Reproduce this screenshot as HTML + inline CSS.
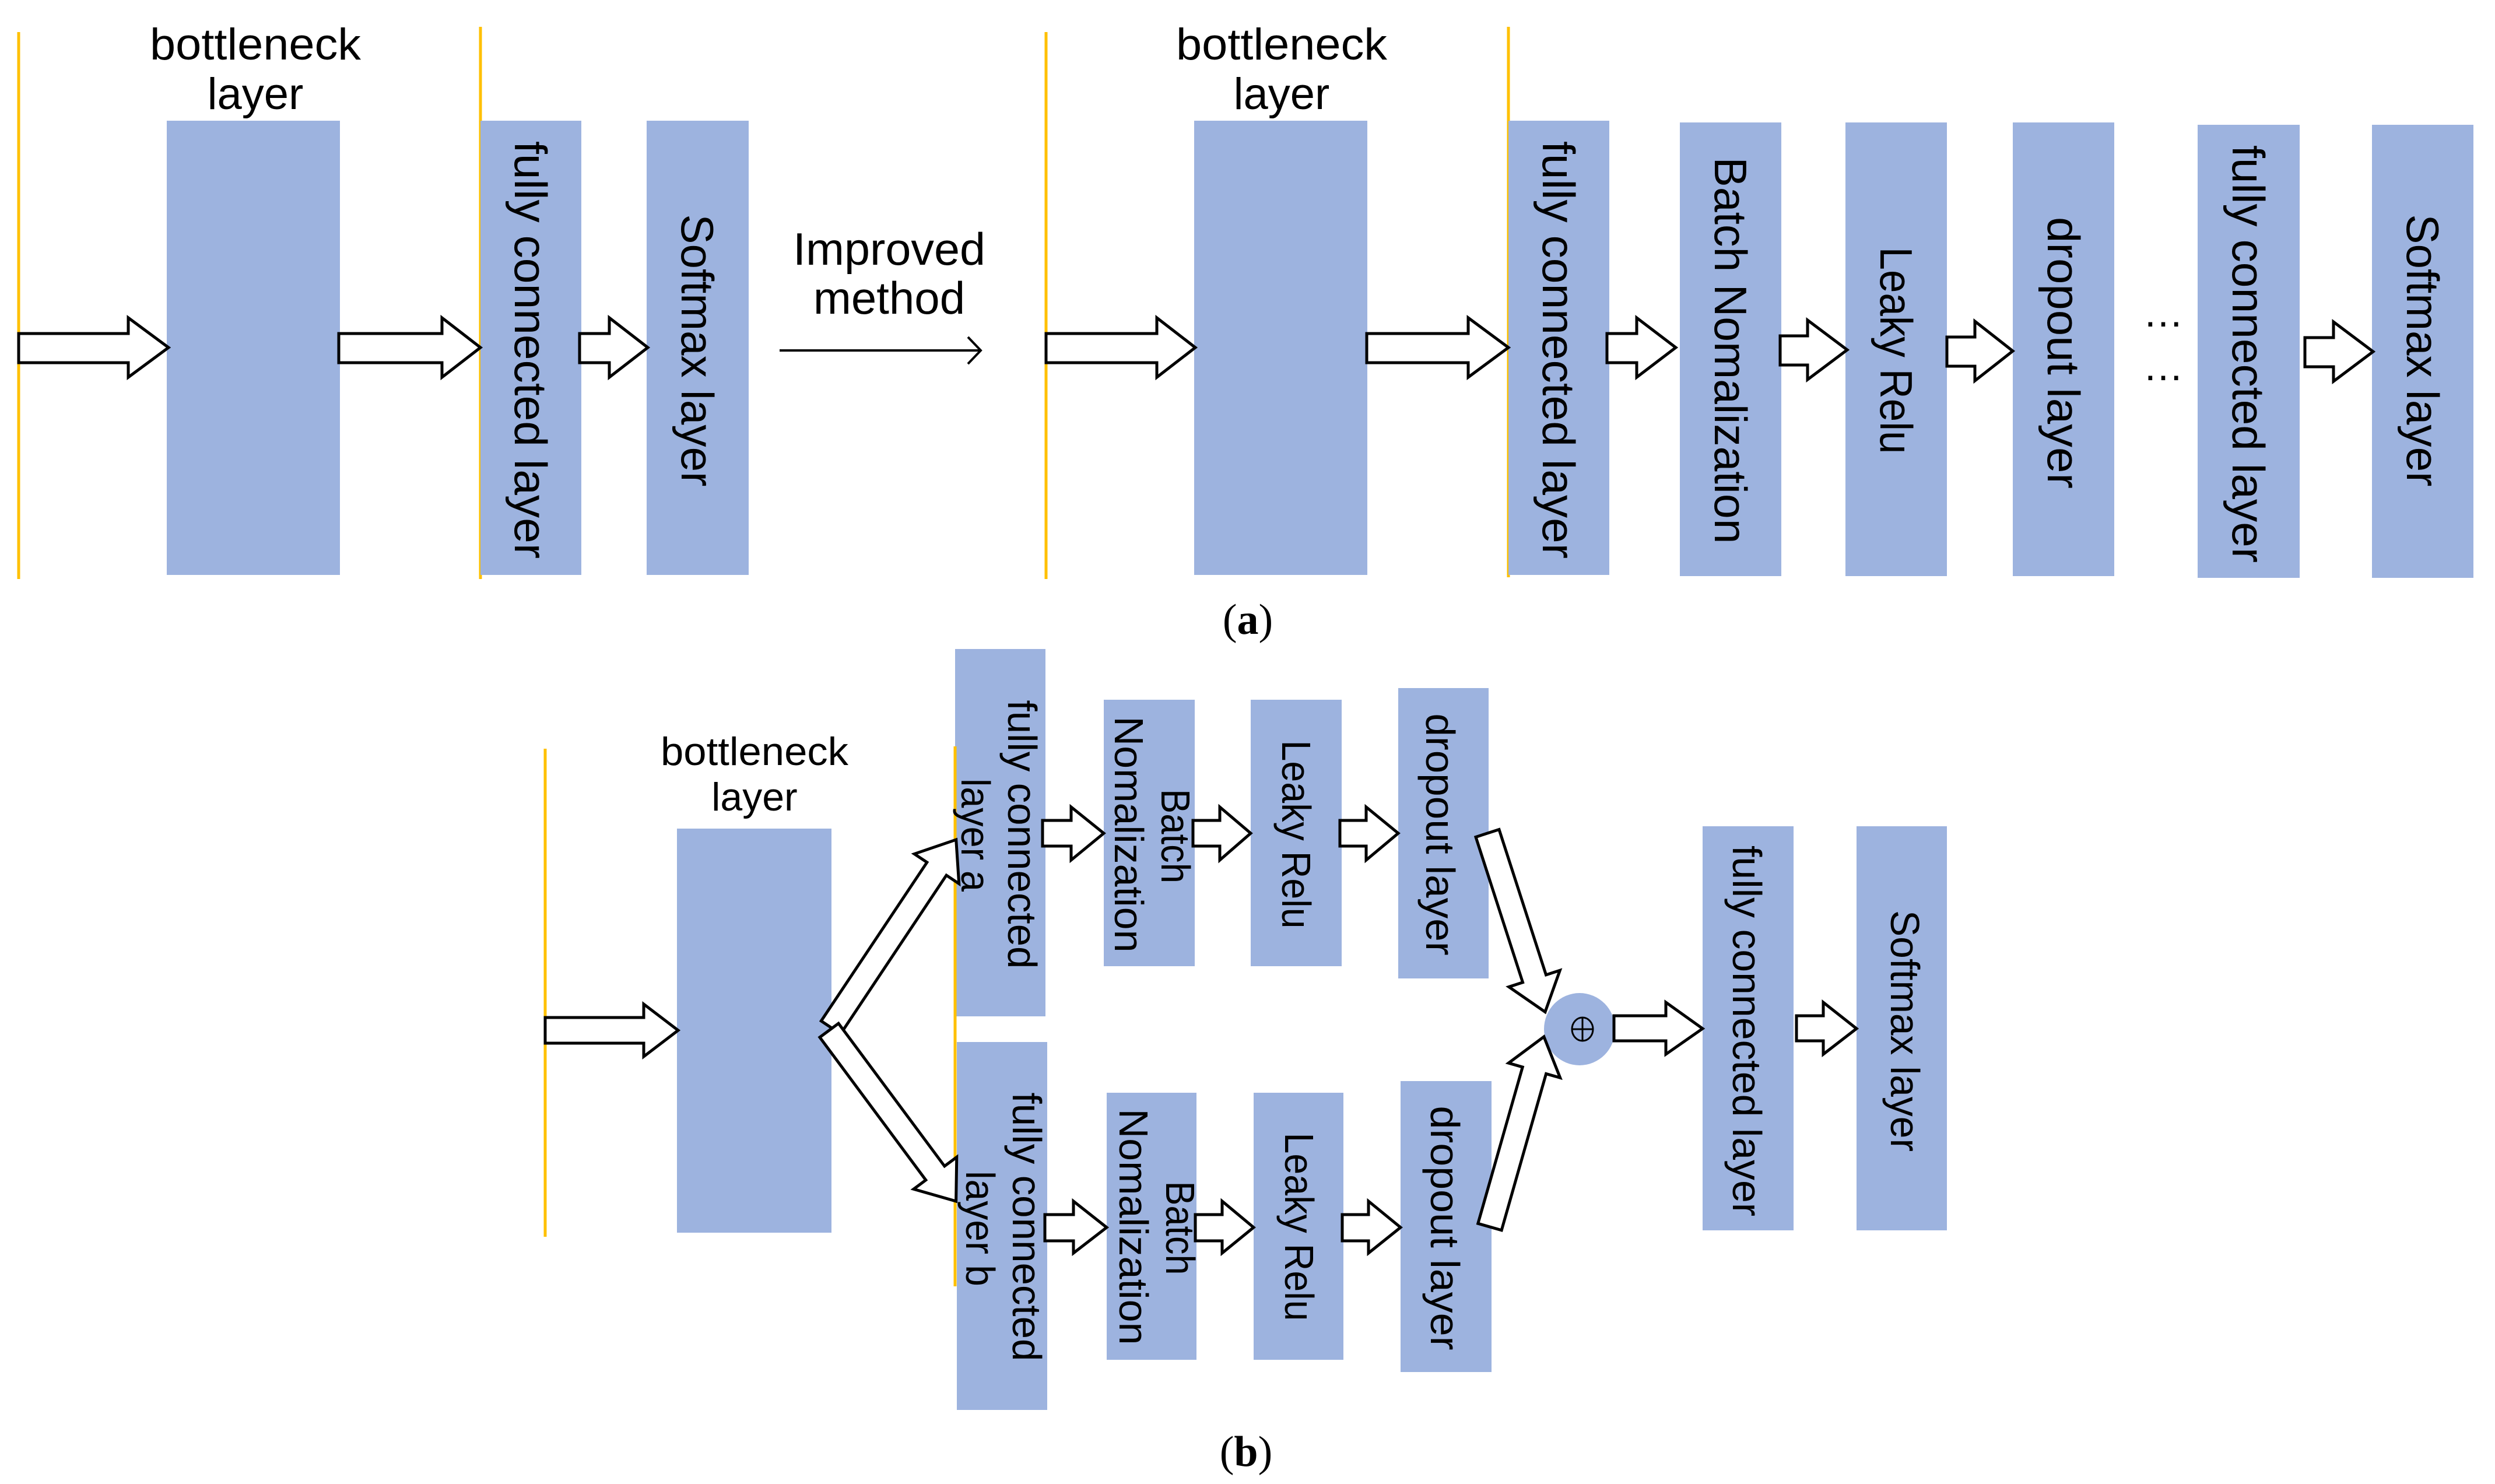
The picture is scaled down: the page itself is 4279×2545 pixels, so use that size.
<!DOCTYPE html>
<html><head><meta charset="utf-8"><style>
html,body{margin:0;padding:0;background:#fff;}
svg{display:block;}
text{font-family:"Liberation Sans",sans-serif;fill:#000;}
</style></head><body>
<svg width="4279" height="2545" viewBox="0 0 4279 2545" xmlns="http://www.w3.org/2000/svg">
<defs>
<style>
.r{fill:#9DB3DF;}
.y{stroke:#FFC000;stroke-width:5;}
.a{fill:#fff;stroke:#000;stroke-width:5;stroke-linejoin:miter;}
</style>
</defs>
<!-- ===== (a) left ===== -->
<line class="y" x1="32" y1="55" x2="32" y2="993"/>
<line class="y" x1="824" y1="46" x2="824" y2="993"/>
<rect class="r" x="286" y="207" width="297" height="779"/>
<rect class="r" x="824" y="207" width="173" height="779"/>
<rect class="r" x="1109" y="207" width="175" height="779"/>
<text x="438" y="102" font-size="76" text-anchor="middle" textLength="362" lengthAdjust="spacingAndGlyphs">bottleneck</text>
<text x="438" y="187" font-size="76" text-anchor="middle">layer</text>
<polygon class="a" points="32,572 220,572 220,545 289,596 220,647 220,622 32,622"/>
<polygon class="a" points="581,572 758,572 758,545 824,596 758,647 758,622 581,622"/>
<polygon class="a" points="994,572 1045,572 1045,545 1111,596 1045,647 1045,622 994,622"/>
<text x="1525" y="454" font-size="78" text-anchor="middle" textLength="330" lengthAdjust="spacingAndGlyphs">Improved</text>
<text x="1525" y="538" font-size="78" text-anchor="middle">method</text>
<line x1="1337" y1="601" x2="1680" y2="601" stroke="#000" stroke-width="4"/>
<polyline points="1660,578 1682,601 1660,624" fill="none" stroke="#000" stroke-width="4"/>
<g font-size="78">
<text transform="translate(910,600) rotate(90)" text-anchor="middle" dominant-baseline="central" textLength="716" lengthAdjust="spacingAndGlyphs">fully connected layer</text>
<text transform="translate(1196,601) rotate(90)" text-anchor="middle" dominant-baseline="central" textLength="467" lengthAdjust="spacingAndGlyphs">Softmax layer</text>
</g>
<!-- ===== (a) right ===== -->
<line class="y" x1="1794" y1="55" x2="1794" y2="993"/>
<line class="y" x1="2587" y1="46" x2="2587" y2="990"/>
<rect class="r" x="2048" y="207" width="297" height="779"/>
<rect class="r" x="2587" y="207" width="173" height="779"/>
<rect class="r" x="2881" y="210" width="174" height="778"/>
<rect class="r" x="3165" y="210" width="174" height="778"/>
<rect class="r" x="3452" y="210" width="174" height="778"/>
<rect class="r" x="3769" y="214" width="175" height="777"/>
<rect class="r" x="4068" y="214" width="174" height="777"/>
<text x="2198" y="102" font-size="76" text-anchor="middle" textLength="362" lengthAdjust="spacingAndGlyphs">bottleneck</text>
<text x="2198" y="187" font-size="76" text-anchor="middle">layer</text>
<polygon class="a" points="1794,572 1984,572 1984,545 2050,596 1984,647 1984,622 1794,622"/>
<polygon class="a" points="2344,572 2518,572 2518,545 2587,596 2518,647 2518,622 2344,622"/>
<polygon class="a" points="2756,572 2807,572 2807,545 2874,596 2807,647 2807,622 2756,622"/>
<polygon class="a" points="3053,576 3100,576 3100,549 3168,600 3100,651 3100,626 3053,626"/>
<polygon class="a" points="3339,578 3387,578 3387,551 3452,602 3387,653 3387,628 3339,628"/>
<polygon class="a" points="3953,579 4002,579 4002,552 4070,603 4002,654 4002,629 3953,629"/>
<text x="3710" y="560" font-size="70" text-anchor="middle">…</text>
<text x="3710" y="652" font-size="70" text-anchor="middle">…</text>
<g font-size="78">
<text transform="translate(2673,600) rotate(90)" text-anchor="middle" dominant-baseline="central" textLength="716" lengthAdjust="spacingAndGlyphs">fully connected layer</text>
<text transform="translate(2968,601) rotate(90)" text-anchor="middle" dominant-baseline="central" textLength="663" lengthAdjust="spacingAndGlyphs">Batch Nomalization</text>
<text transform="translate(3252,601) rotate(90)" text-anchor="middle" dominant-baseline="central" textLength="355" lengthAdjust="spacingAndGlyphs">Leaky Relu</text>
<text transform="translate(3539,605) rotate(90)" text-anchor="middle" dominant-baseline="central" textLength="466" lengthAdjust="spacingAndGlyphs">dropout layer</text>
<text transform="translate(3856,607) rotate(90)" text-anchor="middle" dominant-baseline="central" textLength="716" lengthAdjust="spacingAndGlyphs">fully connected layer</text>
<text transform="translate(4155,601) rotate(90)" text-anchor="middle" dominant-baseline="central" textLength="467" lengthAdjust="spacingAndGlyphs">Softmax layer</text>
</g>
<text x="2140" y="1087" font-size="74" text-anchor="middle" font-family="Liberation Serif"><tspan font-family="Liberation Serif">(</tspan><tspan font-weight="bold" font-family="Liberation Serif">a</tspan><tspan font-family="Liberation Serif">)</tspan></text>
<!-- ===== (b) ===== -->
<line class="y" x1="935" y1="1284" x2="935" y2="2121"/>
<rect class="r" x="1161" y="1421" width="265" height="693"/>
<text x="1294" y="1312" font-size="68" text-anchor="middle" textLength="322" lengthAdjust="spacingAndGlyphs">bottleneck</text>
<text x="1294" y="1390" font-size="68" text-anchor="middle">layer</text>
<rect class="r" x="1638" y="1113" width="155" height="630"/>
<rect class="r" x="1641" y="1787" width="155" height="631"/>
<line class="y" x1="1638" y1="1280" x2="1638" y2="2206"/>
<rect class="r" x="1893" y="1200" width="156" height="457"/>
<rect class="r" x="2145" y="1200" width="156" height="457"/>
<rect class="r" x="2398" y="1180" width="155" height="498"/>
<rect class="r" x="1898" y="1874" width="154" height="458"/>
<rect class="r" x="2150" y="1874" width="154" height="458"/>
<rect class="r" x="2402" y="1854" width="156" height="499"/>
<rect class="r" x="2920" y="1417" width="156" height="693"/>
<rect class="r" x="3184" y="1417" width="155" height="693"/>
<ellipse class="r" cx="2709" cy="1765" rx="61" ry="62"/>
<ellipse cx="2714" cy="1765" rx="18" ry="20" fill="none" stroke="#000" stroke-width="3"/>
<line x1="2696" y1="1765" x2="2732" y2="1765" stroke="#000" stroke-width="3"/>
<line x1="2714" y1="1745" x2="2714" y2="1785" stroke="#000" stroke-width="3"/>
<!-- horizontal arrows -->
<polygon class="a" points="935,1745 1104,1745 1104,1722 1163,1767 1104,1812 1104,1789 935,1789"/>
<polygon class="a" points="1788,1407 1837,1407 1837,1384 1893,1429 1837,1475 1837,1451 1788,1451"/>
<polygon class="a" points="2046,1407 2092,1407 2092,1384 2145,1429 2092,1475 2092,1451 2046,1451"/>
<polygon class="a" points="2298,1407 2343,1407 2343,1384 2398,1429 2343,1475 2343,1451 2298,1451"/>
<polygon class="a" points="1792,2083 1841,2083 1841,2060 1898,2105 1841,2149 1841,2128 1792,2128"/>
<polygon class="a" points="2050,2083 2096,2083 2096,2060 2150,2105 2096,2149 2096,2128 2050,2128"/>
<polygon class="a" points="2302,2083 2347,2083 2347,2060 2402,2105 2347,2149 2347,2128 2302,2128"/>
<polygon class="a" points="2768,1742 2857,1742 2857,1719 2920,1764 2857,1808 2857,1785 2768,1785"/>
<polygon class="a" points="3081,1742 3127,1742 3127,1719 3184,1764 3127,1808 3127,1785 3081,1785"/>
<!-- diagonal arrows -->
<g transform="translate(1425,1762) rotate(-56.3)"><polygon class="a" points="0,-20 327,-20 327,-46 387,0 327,46 327,20 0,20"/></g>
<g transform="translate(1422,1767) rotate(53.4)"><polygon class="a" points="0,-20 305,-20 305,-46 365,0 305,46 305,20 0,20"/></g>
<g transform="translate(2551,1429) rotate(72.1)"><polygon class="a" points="0,-21 262,-21 262,-46 322,0 262,46 262,21 0,21"/></g>
<g transform="translate(2555,2104) rotate(-74.1)"><polygon class="a" points="0,-21 279,-21 279,-46 339,0 279,46 279,21 0,21"/></g>
<g font-size="70">
<text transform="translate(1753,1431) rotate(90)" text-anchor="middle" dominant-baseline="central" textLength="461" lengthAdjust="spacingAndGlyphs">fully connected</text>
<text transform="translate(1673,1432) rotate(90)" text-anchor="middle" dominant-baseline="central" textLength="194" lengthAdjust="spacingAndGlyphs">layer a</text>
<text transform="translate(2016,1434) rotate(90)" text-anchor="middle" dominant-baseline="central" textLength="162" lengthAdjust="spacingAndGlyphs">Batch</text>
<text transform="translate(1936,1431) rotate(90)" text-anchor="middle" dominant-baseline="central" textLength="405" lengthAdjust="spacingAndGlyphs">Nomalization</text>
<text transform="translate(2223,1431) rotate(90)" text-anchor="middle" dominant-baseline="central" textLength="323" lengthAdjust="spacingAndGlyphs">Leaky Relu</text>
<text transform="translate(2470,1431) rotate(90)" text-anchor="middle" dominant-baseline="central" textLength="415" lengthAdjust="spacingAndGlyphs">dropout layer</text>
<text transform="translate(1761,2104) rotate(90)" text-anchor="middle" dominant-baseline="central" textLength="461" lengthAdjust="spacingAndGlyphs">fully connected</text>
<text transform="translate(1681,2107) rotate(90)" text-anchor="middle" dominant-baseline="central" textLength="198" lengthAdjust="spacingAndGlyphs">layer b</text>
<text transform="translate(2024,2106) rotate(90)" text-anchor="middle" dominant-baseline="central" textLength="161" lengthAdjust="spacingAndGlyphs">Batch</text>
<text transform="translate(1944,2104) rotate(90)" text-anchor="middle" dominant-baseline="central" textLength="405" lengthAdjust="spacingAndGlyphs">Nomalization</text>
<text transform="translate(2228,2104) rotate(90)" text-anchor="middle" dominant-baseline="central" textLength="323" lengthAdjust="spacingAndGlyphs">Leaky Relu</text>
<text transform="translate(2478,2106) rotate(90)" text-anchor="middle" dominant-baseline="central" textLength="419" lengthAdjust="spacingAndGlyphs">dropout layer</text>
<text transform="translate(2996,1768) rotate(90)" text-anchor="middle" dominant-baseline="central" textLength="636" lengthAdjust="spacingAndGlyphs">fully connected layer</text>
<text transform="translate(3267,1768) rotate(90)" text-anchor="middle" dominant-baseline="central" textLength="414" lengthAdjust="spacingAndGlyphs">Softmax layer</text>
</g>
<text x="2137" y="2514" font-size="74" text-anchor="middle" font-family="Liberation Serif"><tspan font-family="Liberation Serif">(</tspan><tspan font-weight="bold" font-family="Liberation Serif">b</tspan><tspan font-family="Liberation Serif">)</tspan></text>
</svg>
</body></html>
